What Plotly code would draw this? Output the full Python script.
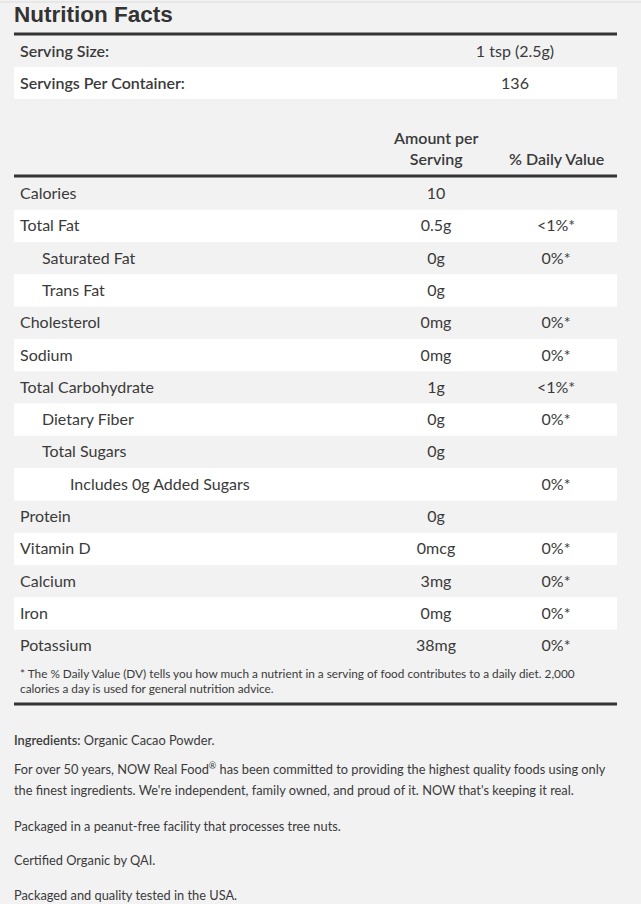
import plotly.graph_objects as go

# ---------------- data ----------------
title_text = "Nutrition Facts"
serving_labels = ["Serving Size:", "Servings Per Container:"]
serving_values = ["1 tsp (2.5g)", "136"]

nutrients = ["Calories", "Total Fat", "Saturated Fat", "Trans Fat", "Cholesterol",
             "Sodium", "Total Carbohydrate", "Dietary Fiber", "Total Sugars",
             "Includes 0g Added Sugars", "Protein", "Vitamin D", "Calcium", "Iron",
             "Potassium"]
amounts = ["10", "0.5g", "0g", "0g", "0mg", "0mg", "1g", "0g", "0g", "", "0g",
           "0mcg", "3mg", "0mg", "38mg"]
daily_values = ["", "<1%*", "0%*", "", "0%*", "0%*", "<1%*", "0%*", "", "0%*", "",
                "0%*", "0%*", "0%*", "0%*"]
indent_levels = [0, 0, 1, 1, 0, 0, 0, 1, 1, 2, 0, 0, 0, 0, 0]

col_headers = ["Amount per<br>Serving", "% Daily Value"]
footnote = ("* The % Daily Value (DV) tells you how much a nutrient in a serving of food "
            "contributes to a daily diet. 2,000<br>calories a day is used for general nutrition advice.")
paragraphs = [
    "<span style='font-weight:600'>Ingredients:</span> Organic Cacao Powder.",
    "For over 50 years, NOW Real Food<sup>®</sup> has been committed to providing the highest quality foods using only",
    "the finest ingredients. We're independent, family owned, and proud of it. NOW that's keeping it real.",
    "Packaged in a peanut-free facility that processes tree nuts.",
    "Certified Organic by QAI.",
    "Packaged and quality tested in the USA.",
]

# ---------------- layout constants ----------------
W, H = 641, 904
LEFT, RIGHT = 14, 617
BG = "#f2f2f2"
TXT = "#3a3a3a"
FONT = "Lato"
ROW_TOP0 = 177.4
ROW_H = 32.3
SERV_TOP0 = 35
SERV_H = 32
TEXT_DY = 1.5
X_LABEL = 20
INDENT_PX = [0, 22, 50]
X_AMT = 436
X_DV = 556
X_SERV_VAL = 515
PARA_Y = [740, 768, 790, 826, 860, 895]
TS = 16
ANN_PAD = 2

fig = go.Figure()
shapes = []

# top border
shapes.append(dict(type="line", xref="x", yref="y", x0=0, x1=W, y0=2, y1=2,
                   line=dict(color="#dddddd", width=1)))

# serving rows
serv_centers = []
for i, lab in enumerate(serving_labels):
    top = SERV_TOP0 + i * SERV_H
    serv_centers.append(top + SERV_H / 2 + TEXT_DY)
    if i % 2 == 1:
        shapes.append(dict(type="rect", xref="x", yref="y", x0=LEFT, x1=RIGHT,
                           y0=top, y1=top + SERV_H, fillcolor="white",
                           line=dict(width=0), layer="below"))

# nutrient rows
row_centers = []
for i in range(len(nutrients)):
    top = ROW_TOP0 + i * ROW_H
    row_centers.append(top + ROW_H / 2 + TEXT_DY)
    if i % 2 == 1:
        shapes.append(dict(type="rect", xref="x", yref="y", x0=LEFT, x1=RIGHT,
                           y0=top, y1=top + ROW_H, fillcolor="white",
                           line=dict(width=0), layer="below"))

# thick rules
for yy in [34, 176, 704]:
    shapes.append(dict(type="line", xref="x", yref="y", x0=LEFT, x1=RIGHT, y0=yy, y1=yy,
                       line=dict(color="#333333", width=3)))

# serving text
fig.add_trace(go.Scatter(x=[X_LABEL] * len(serving_labels), y=serv_centers, mode="text",
                         text=serving_labels, textposition="middle right",
                         textfont=dict(family=FONT, size=TS, color=TXT, weight=600),
                         hoverinfo="skip", showlegend=False))
fig.add_trace(go.Scatter(x=[X_SERV_VAL] * len(serving_values), y=serv_centers, mode="text",
                         text=serving_values, textposition="middle center",
                         textfont=dict(family=FONT, size=TS, color=TXT),
                         hoverinfo="skip", showlegend=False))

# nutrient table text
fig.add_trace(go.Scatter(x=[X_LABEL + INDENT_PX[l] for l in indent_levels], y=row_centers,
                         mode="text", text=nutrients, textposition="middle right",
                         textfont=dict(family=FONT, size=TS, color=TXT),
                         hoverinfo="skip", showlegend=False))
fig.add_trace(go.Scatter(x=[X_AMT] * len(amounts), y=row_centers, mode="text",
                         text=amounts, textposition="middle center",
                         textfont=dict(family=FONT, size=TS, color=TXT),
                         hoverinfo="skip", showlegend=False))
fig.add_trace(go.Scatter(x=[X_DV] * len(daily_values), y=row_centers, mode="text",
                         text=daily_values, textposition="middle center",
                         textfont=dict(family=FONT, size=TS, color=TXT),
                         hoverinfo="skip", showlegend=False))

annotations = []
annotations.append(dict(x=LEFT - ANN_PAD, y=14, xref="x", yref="y", text="<b>" + title_text + "</b>",
                        showarrow=False, xanchor="left", yanchor="middle",
                        font=dict(family="Liberation Sans", size=22.5, color="#333333")))
annotations.append(dict(x=X_AMT, y=148, xref="x", yref="y", text=col_headers[0],
                        showarrow=False, xanchor="center", yanchor="middle",
                        font=dict(family=FONT, size=TS, color=TXT, weight=600)))
annotations.append(dict(x=X_DV, y=158.5, xref="x", yref="y", text=col_headers[1],
                        showarrow=False, xanchor="center", yanchor="middle",
                        font=dict(family=FONT, size=TS, color=TXT, weight=600)))
annotations.append(dict(x=X_LABEL - ANN_PAD, y=681, xref="x", yref="y", text=footnote,
                        showarrow=False, xanchor="left", yanchor="middle", align="left",
                        font=dict(family=FONT, size=11.8, color=TXT)))
for yy, t in zip(PARA_Y, paragraphs):
    annotations.append(dict(x=LEFT - ANN_PAD, y=yy, xref="x", yref="y", text=t,
                            showarrow=False, xanchor="left", yanchor="middle", align="left",
                            font=dict(family=FONT, size=12.8, color=TXT)))

fig.update_layout(
    width=W, height=H,
    margin=dict(l=0, r=0, t=0, b=0),
    paper_bgcolor=BG, plot_bgcolor=BG,
    xaxis=dict(range=[0, W], visible=False, fixedrange=True),
    yaxis=dict(range=[H, 0], visible=False, fixedrange=True),
    shapes=shapes, annotations=annotations,
    showlegend=False,
)

fig.write_html("out.html", config={"displayModeBar": False},
               post_script="document.body.style.margin='0';document.body.style.overflow='hidden';")
